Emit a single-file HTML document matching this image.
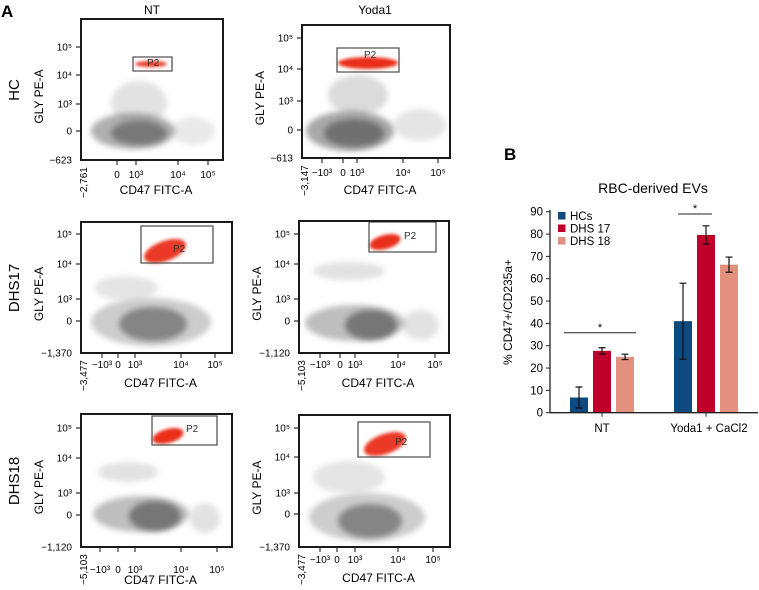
<!DOCTYPE html>
<html><head><meta charset="utf-8">
<style>
body{margin:0;width:759px;height:590px;background:#fff;position:relative;overflow:hidden;font-family:"Liberation Sans",sans-serif}
svg{position:absolute;left:0;top:0}
.cond{font-family:"Liberation Sans Narrow","Liberation Sans",sans-serif}
</style></head><body>
<svg id="main" width="759" height="590" viewBox="0 0 759 590">
<defs>
<filter id="b2" x="-50%" y="-50%" width="200%" height="200%"><feGaussianBlur stdDeviation="3"/></filter>
<filter id="b1" x="-50%" y="-50%" width="200%" height="200%"><feGaussianBlur stdDeviation="1.5"/></filter>
</defs>
<text x="1" y="17" font-size="17" font-weight="bold">A</text>
<text x="152" y="14" font-size="12" text-anchor="middle">NT</text>
<text x="375" y="14" font-size="12" text-anchor="middle">Yoda1</text>
<text transform="translate(19,90) rotate(-90)" font-size="15" text-anchor="middle">HC</text>
<text transform="translate(19,288) rotate(-90)" font-size="15" text-anchor="middle">DHS17</text>
<text transform="translate(19,481) rotate(-90)" font-size="15" text-anchor="middle">DHS18</text>
<g id="panels"></g>
<g id="bar"></g>
<g fill="none" stroke="#1a1a1a" stroke-width="2">
<rect x="81" y="19" width="142" height="141"/>
<rect x="302" y="25" width="148" height="133"/>
<rect x="81" y="222" width="151" height="131"/>
<rect x="299" y="221" width="150" height="132"/>
<rect x="81" y="414" width="151" height="133"/>
<rect x="299" y="415" width="151" height="132"/>
</g>
</svg>
<script>
const NS="http://www.w3.org/2000/svg";
function mk(tag,attrs,parent,txt){const e=document.createElementNS(NS,tag);for(const k in attrs)e.setAttribute(k,attrs[k]);if(txt!==undefined)e.textContent=txt;parent.appendChild(e);return e;}

const panels=[
 {name:"hc-nt",x:81,y:19,w:142,h:141,yt:[28,56,85,112],yb:"−623",xt:[36,55,97,127],xl:["0","10³","10⁴","10⁵"],xmin:"−2,761",tl:178,ttl:194,
  clouds:[[52,112,42,18,0.55],[58,114,28,12,0.85],[58,84,28,22,0.2],[112,112,22,14,0.15]],
  gate:[52,38,39,14],red:[[70,45,16,3,0.9]],p2:[66,47]},
 {name:"hc-yoda1",x:302,y:25,w:148,h:133,yt:[13,44,76,105],yb:"−613",xt:[20,41,55,101,136],xl:["−10³","0","10³","10⁴","10⁵"],xmin:"−3,147",tl:176,ttl:194,
  clouds:[[48,106,44,20,0.6],[52,108,30,14,0.95],[56,70,30,20,0.25],[118,100,26,16,0.18]],
  gate:[35,23,62,24],red:[[66,38,30,6,0.95]],p2:[62,33]},
 {name:"dhs17-nt",x:81,y:222,w:151,h:131,yt:[12,42,77,99],yb:"−1,370",xt:[21,37,54,100,134],xl:["−10³","0","10³","10⁴","10⁵"],xmin:"−3,477",tl:368,ttl:387,
  clouds:[[70,100,60,24,0.35],[72,102,34,17,0.75],[45,66,32,12,0.18]],
  gate:[60,4,72,37],red:[[84,29,22,10,0.9,-20]],p2:[92,30]},
 {name:"dhs18-yoda1",x:299,y:415,w:151,h:132,yt:[13,42,78,99],yb:"−1,370",xt:[21,38,56,99,134],xl:["−10³","0","10³","10⁴","10⁵"],xmin:"−3,477",tl:563,ttl:582,
  clouds:[[68,102,58,24,0.35],[71,106,32,17,0.75],[50,62,36,16,0.18]],
  gate:[59,7,72,35],red:[[86,29,22,10,0.9,-20]],p2:[96,30]},
 {name:"dhs18-nt",x:81,y:414,w:151,h:133,yt:[14,44,79,101],yb:"−1,120",xt:[19,37,54,100,136],xl:["−10³","0","10³","10⁴","10⁵"],xmin:"−5,103",tl:573,ttl:584,
  clouds:[[60,100,48,18,0.45],[74,102,26,15,0.9],[47,58,30,10,0.2],[124,104,15,15,0.2]],
  gate:[71,2,65,29],red:[[87,22,16,7,0.95,-15]],p2:[105,18]},
 {name:"dhs17-yoda1",x:299,y:221,w:150,h:132,yt:[13,43,78,100],yb:"−1,120",xt:[21,41,56,99,136],xl:["−10³","0","10³","10⁴","10⁵"],xmin:"−5,103",tl:368,ttl:387,
  clouds:[[56,102,50,18,0.45],[72,104,26,15,0.9],[50,50,36,9,0.2],[122,104,18,15,0.2]],
  gate:[70,1,67,30],red:[[86,21,16,7,0.95,-15]],p2:[105,18]}
];
const PG=document.getElementById("panels");
panels.forEach(p=>{
  const g=mk("g",{transform:`translate(${p.x},${p.y})`},PG);
  
  
  p.clouds.forEach(c=>{
    const e=mk("ellipse",{cx:c[0],cy:c[1],rx:c[2],ry:c[3],fill:"#6e6e6e","fill-opacity":c[4],filter:"url(#b2)"},g);
    
    
  });
  p.red.forEach(r=>{
    const e=mk("ellipse",{cx:r[0],cy:r[1],rx:r[2],ry:r[3],fill:"#e8240c","fill-opacity":r[4],filter:"url(#b1)",transform:`rotate(${r[5]||0} ${r[0]} ${r[1]})`},g);
    
    
  });
  const gr=mk("path",{d:`M${p.gate[0]},${p.gate[1]}h${p.gate[2]}v${p.gate[3]}h${-p.gate[2]}Z`,style:"fill:none;stroke:#555;stroke-width:1.3"},g);
  
  
  const pt=mk("text",{x:p.p2[0],y:p.p2[1],"font-size":10,fill:"#333"},g,"P2");
  
  
  const ylab=["10⁵","10⁴","10³","0"];
  let td="";
  p.yt.forEach((t,i)=>{
    td+=`M-5,${t}H0`;
    const tt=mk("text",{x:-9,y:t+3.5,"font-size":10,"text-anchor":"end"},g,ylab[i]);
    
    
  });
  const yb=mk("text",{x:-9,y:p.h+3.5,"font-size":10,"text-anchor":"end"},g,p.yb);
  
  
  p.xt.forEach((t,i)=>{
    td+=`M${t},${p.h}V${p.h+5}`;
    const tt=mk("text",{x:t,y:p.tl-p.y,"font-size":10,"text-anchor":"middle"},g,p.xl[i]);
    
    
  });
  const tk=mk("path",{d:td,fill:"none",stroke:"#333","stroke-width":1.2},g);
  
  
  const xm=mk("text",{transform:`translate(6,${p.h+38}) rotate(-90)`,"font-size":10},g,p.xmin);
  
  
  const xa=mk("text",{x:p.w/2+4,y:p.ttl-p.y,"font-size":12,"text-anchor":"middle",class:"cond"},g,"CD47 FITC-A");
  
  
  const ya=mk("text",{transform:`translate(-38,${p.h*0.55}) rotate(-90)`,"font-size":12,"text-anchor":"middle",class:"cond"},g,"GLY PE-A");
  
  
});

// ---------- bar chart ----------
const groups=["NT","Yoda1 + CaCl2"];
const seriesNames=["HCs","DHS 17","DHS 18"];
const hcVals=[6.8,41];
const dhs17Vals=[27.7,79.6];
const dhs18Vals=[25,66.3];
const hcErr=[4.7,17];
const dhs17Err=[1.4,4.1];
const dhs18Err=[1.2,3.4];
const yTicks=[0,10,20,30,40,50,60,70,80,90];
const colors=["#0d4a80","#c0002a","#e3907f"];
const B=document.getElementById("bar");
const y0=412.7,ppu=2.233;
const ys=v=>y0-v*ppu;
const gx=i=>602+i*104;
const bw=18, off=[-23,0,23];
mk("text",{x:504,y:160,"font-size":17,"font-weight":"bold"},B,"B");
mk("text",{x:653,y:193,"font-size":14,"text-anchor":"middle"},B,"RBC-derived EVs");
yTicks.forEach(t=>{
  mk("line",{x1:546,x2:550,y1:ys(t),y2:ys(t),stroke:"#222"},B);
  const tt=mk("text",{x:543,y:ys(t)+4,"font-size":11.5,"text-anchor":"end"},B,String(t));
  
  
});
const yt=mk("text",{transform:"translate(512,312) rotate(-90)","font-size":12,"text-anchor":"middle",class:"cond"},B,"% CD47+/CD235a+");


const vals=[hcVals,dhs17Vals,dhs18Vals],errs=[hcErr,dhs17Err,dhs18Err];
groups.forEach((gname,gi)=>{
  vals.forEach((s,si)=>{
    const cx=gx(gi)+off[si];
    const r=mk("rect",{x:cx-bw/2,y:ys(s[gi]),width:bw,height:y0-ys(s[gi]),fill:colors[si]},B);
    
    
    const e=errs[si][gi],hi=ys(s[gi]+e),lo=ys(s[gi]-e);
    const eb=mk("path",{d:`M${cx},${hi}V${lo}M${cx-3.5},${hi}H${cx+3.5}M${cx-3.5},${lo}H${cx+3.5}`,stroke:"#111","stroke-width":1.2,fill:"none"},B);
    
    
  });
  mk("line",{x1:gx(gi),x2:gx(gi),y1:y0,y2:y0+4,stroke:"#222"},B);
  const gl=mk("text",{x:gx(gi)+(gi?3:0),y:432,"font-size":11.5,"text-anchor":"middle"},B,gname);
  
  
});
mk("line",{x1:550,x2:550,y1:210,y2:y0,stroke:"#222","stroke-width":1.3},B);
mk("line",{x1:550,x2:758,y1:y0,y2:y0,stroke:"#222","stroke-width":1.3},B);
mk("line",{x1:564,x2:636,y1:332.7,y2:332.7,stroke:"#222"},B);
mk("text",{x:600,y:331,"font-size":11,"text-anchor":"middle"},B,"*");
mk("line",{x1:678,x2:712,y1:214,y2:214,stroke:"#222"},B);
mk("text",{x:695,y:212,"font-size":11,"text-anchor":"middle"},B,"*");
seriesNames.forEach((n,i)=>{
  const ly=216+i*12.5;
  const sq=mk("rect",{x:558,y:ly-4,width:7.5,height:7.5,fill:colors[i]},B);
  
  
  const t=mk("text",{x:570,y:ly+4,"font-size":11.5},B,n);
  
  
});
</script>
</body></html>
